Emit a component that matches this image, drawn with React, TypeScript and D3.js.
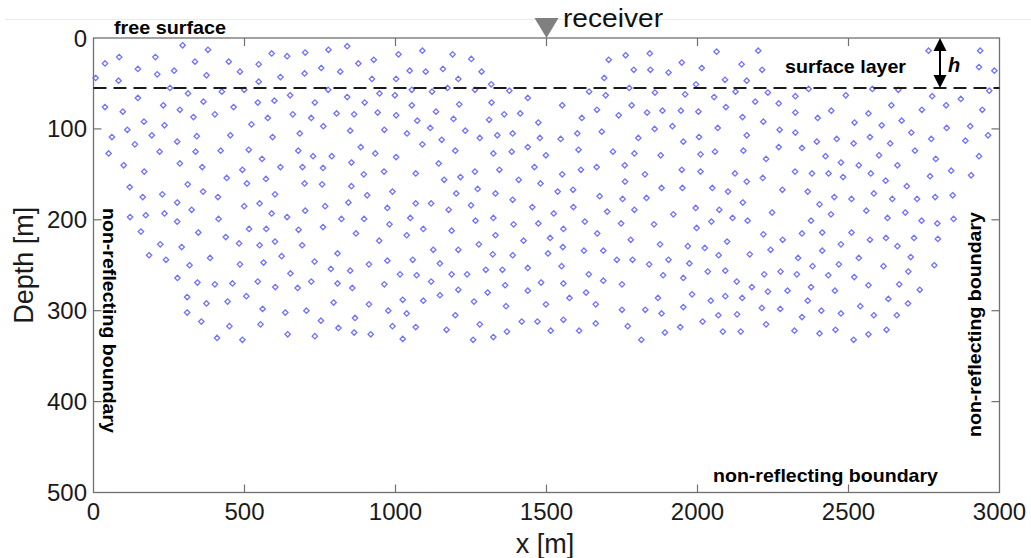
import React from 'react';
import * as d3 from 'd3';

const WIDTH = 1031;
const HEIGHT = 558;

const xTicks = [0, 500, 1000, 1500, 2000, 2500, 3000];
const depthTicks = [0, 100, 200, 300, 400, 500];
const surfaceLayerDepth = 55;
const receiverX = 1500;

// Scatterer positions [x (m), depth (m)], grouped by model zone
const nodesShallowWest: [number, number][] = [
  [295, 8], [379, 13], [7, 44], [38, 28], [85, 21], [83, 47], [147, 34], [205, 21], [211, 40], [267, 36], [336, 26], [374, 41], [448, 26], [485, 37], [547, 29], [547, 48], [590, 17], [619, 43], [641, 20], [699, 39], [701, 16], [754, 33], [778, 13], [817, 37],
  [253, 55], [313, 61], [425, 59], [499, 57], [777, 57], [147, 66], [38, 76], [97, 81], [231, 74], [286, 79], [331, 87], [364, 70], [402, 84], [464, 76], [544, 71], [577, 88], [599, 69], [651, 63], [660, 84], [721, 88], [733, 71], [805, 83],
  [167, 92], [112, 101], [61, 109], [193, 107], [235, 96], [277, 114], [342, 108], [453, 107], [523, 95], [593, 109], [683, 105], [761, 97],
  [137, 117], [50, 127], [219, 125], [338, 125], [421, 124], [514, 123], [558, 133], [678, 124], [727, 130], [789, 130],
  [100, 140], [168, 147], [286, 138], [360, 142], [493, 145], [571, 155], [619, 142], [692, 142], [760, 143],
  [120, 164], [312, 161], [441, 154], [508, 160], [699, 160], [757, 161],
];

const nodesShallowCentral: [number, number][] = [
  [840, 9], [1010, 18], [1089, 14], [1189, 18], [1251, 23], [1706, 24], [1762, 19], [1842, 17], [1948, 27],
  [877, 28], [928, 24], [922, 45], [1002, 45], [1047, 36], [1100, 37], [1157, 34], [1208, 45], [1285, 37], [1317, 51], [1691, 44], [1789, 35], [1844, 35], [1904, 38],
  [947, 61], [998, 63], [1054, 57], [1121, 59], [1172, 55], [1263, 57], [1377, 58], [1641, 59], [1696, 63], [1774, 55], [1859, 60],
  [840, 65], [898, 71], [1438, 66], [1318, 71], [1054, 74], [1211, 73], [1552, 74], [1782, 74], [941, 82], [1134, 81], [863, 84], [1002, 85], [1192, 89], [1072, 91], [1310, 90], [1360, 84], [1413, 83], [1473, 93], [1617, 88], [1667, 79], [1739, 85], [1833, 82], [1884, 80], [1945, 80],
  [850, 102], [963, 101], [1038, 105], [1115, 99], [1153, 112], [1231, 102], [1279, 110], [1337, 107], [1388, 105], [1478, 110], [1547, 111], [1602, 105], [1683, 103], [1804, 110], [1858, 100], [1917, 97], [1953, 114],
  [885, 120], [933, 127], [1002, 131], [1089, 117], [1198, 124], [1324, 127], [1385, 125], [1438, 120], [1498, 129], [1606, 123], [1720, 125], [1791, 127], [1878, 129],
  [854, 137], [895, 150], [962, 147], [1067, 149], [1143, 138], [1161, 156], [1215, 153], [1263, 147], [1344, 145], [1408, 156], [1460, 142], [1480, 160], [1552, 150], [1614, 145], [1666, 142], [1759, 140], [1826, 150], [1948, 145],
  [854, 163], [1760, 158], [1881, 165], [1950, 165], [1272, 166], [1588, 167],
];

const nodesShallowEast: [number, number][] = [
  [2063, 15], [2201, 14], [2014, 33], [2146, 29], [2214, 35], [2091, 46], [2163, 47], [1995, 51], [2765, 14], [2936, 14], [2932, 32], [2983, 36],
  [1959, 62], [2055, 65], [2126, 59], [2233, 60], [2324, 64], [2368, 56], [2491, 63], [2579, 56], [2665, 57], [2777, 64], [2823, 74], [2872, 67], [2966, 58],
  [2003, 81], [2094, 76], [2191, 70], [2269, 72], [2324, 82], [2149, 87], [2218, 92], [2398, 88], [2443, 80], [2520, 93], [2566, 83], [2642, 74], [2610, 96], [2676, 91], [2743, 79], [2943, 79],
  [2067, 99], [2163, 107], [2272, 101], [2324, 104], [2005, 109], [2058, 125], [2152, 124], [2269, 120], [2346, 121], [2395, 114], [2461, 111], [2517, 116], [2571, 109], [2638, 116], [2708, 104], [2774, 111], [2825, 99], [2903, 97], [2962, 107], [2887, 113],
  [2010, 128], [2227, 133], [2424, 130], [2475, 137], [2534, 140], [2601, 129], [2662, 140], [2720, 124], [2789, 133], [2932, 130],
  [2010, 147], [2124, 149], [2216, 154], [2163, 158], [2323, 147], [2379, 149], [2434, 149], [2482, 153], [2574, 149], [2623, 157], [2693, 163], [2770, 152], [2840, 146], [2906, 151],
  [2049, 165], [2281, 167],
];

const nodesDeepWest: [number, number][] = [
  [163, 175], [228, 172], [277, 181], [363, 169], [412, 175], [601, 172], [550, 182], [499, 185], [767, 185],
  [121, 197], [173, 195], [235, 193], [277, 202], [325, 189], [414, 199], [515, 210], [572, 210], [590, 193], [641, 197], [679, 211], [701, 190], [760, 208], [821, 199],
  [157, 213], [221, 227], [292, 230], [347, 214], [438, 219], [482, 226], [550, 228], [601, 224], [623, 240], [691, 228], [808, 237],
  [184, 239], [240, 244], [318, 250], [386, 242], [485, 249], [563, 247], [732, 246], [786, 254],
  [278, 264], [344, 269], [402, 271], [460, 270], [544, 268], [602, 274], [652, 259], [676, 275], [721, 268], [808, 270],
  [310, 285], [374, 292], [444, 290], [506, 284], [560, 298], [635, 302], [705, 300], [795, 291],
  [310, 302], [357, 312], [450, 317], [553, 315], [753, 311], [811, 319],
  [409, 330], [493, 332], [643, 326], [733, 328],
];

const nodesDeepCentral: [number, number][] = [
  [906, 173], [990, 169], [1201, 171], [1331, 171], [1388, 178], [1537, 169], [1676, 174], [1752, 177], [1831, 176],
  [844, 181], [973, 187], [1067, 182], [1118, 182], [1176, 189], [1250, 184], [1453, 186], [1524, 193], [1589, 186], [1701, 191], [1791, 189], [1920, 194],
  [896, 199], [980, 205], [1049, 198], [1092, 210], [1186, 212], [1265, 201], [1324, 198], [1391, 205], [1473, 204], [1556, 210], [1627, 202], [1747, 204], [1856, 205],
  [869, 215], [946, 223], [1037, 217], [1125, 233], [1208, 233], [1276, 227], [1331, 217], [1424, 223], [1512, 220], [1554, 230], [1624, 234], [1668, 215], [1688, 234], [1779, 222], [1876, 227],
  [850, 256], [912, 249], [973, 245], [1057, 244], [1147, 248], [1322, 238], [1388, 239], [1505, 237], [1550, 251], [1733, 244], [1785, 244], [1840, 249], [1904, 244],
  [1015, 260], [1070, 261], [1186, 260], [1237, 260], [1299, 255], [1354, 255], [1438, 253], [1640, 260], [1886, 261], [1953, 264],
  [857, 275], [963, 271], [1118, 268], [1208, 277], [1305, 280], [1363, 272], [1438, 278], [1482, 269], [1556, 270], [1631, 280], [1688, 267], [1750, 271],
  [912, 293], [1024, 288], [1092, 289], [1147, 283], [1260, 290], [1366, 295], [1498, 293], [1576, 286], [1663, 293], [1869, 286], [1953, 296],
  [866, 308], [976, 300], [1037, 303], [1198, 305], [1418, 312], [1470, 312], [1556, 310], [1663, 314], [1750, 299], [1827, 299], [1881, 303],
  [863, 324], [918, 326], [990, 317], [1067, 318], [1024, 331], [1169, 321], [1279, 315], [1257, 332], [1324, 329], [1369, 323], [1514, 322], [1608, 322], [1769, 317], [1814, 332], [1892, 324], [1943, 318],
];

const nodesDeepEast: [number, number][] = [
  [2101, 169], [2365, 169], [2453, 175], [2510, 177], [2584, 171], [2645, 177], [2727, 177], [2787, 175], [2845, 173],
  [1994, 187], [2072, 189], [2150, 181], [2046, 202], [2116, 198], [2166, 201], [2247, 192], [2376, 201], [2404, 183], [2442, 194], [2559, 190], [2629, 198], [2688, 192], [2742, 201], [2794, 204], [2848, 199],
  [1997, 209], [2098, 224], [2218, 216], [2282, 222], [2346, 215], [2413, 214], [2475, 227], [2510, 214], [2571, 222], [2624, 220], [2662, 229], [2717, 220], [2796, 221],
  [1968, 229], [2024, 231], [2070, 239], [2173, 238], [2242, 233], [2333, 242], [2413, 234], [2381, 251], [2468, 249], [2534, 242], [2616, 251], [2706, 241], [2784, 250],
  [1973, 248], [2034, 257], [2092, 256], [2130, 268], [2180, 274], [2221, 260], [2275, 257], [2329, 260], [2233, 279], [2298, 278], [2376, 274], [2433, 261], [2455, 278], [2519, 263], [2566, 272], [2698, 257], [2668, 271], [2736, 277],
  [1982, 282], [2044, 289], [2092, 284], [2148, 286], [2213, 297], [2274, 298], [2365, 289], [2346, 307], [2410, 300], [2475, 303], [2539, 295], [2584, 305], [2632, 287], [2697, 292], [2660, 305],
  [2017, 312], [2069, 305], [2131, 304], [2227, 315], [2084, 323], [2143, 323], [2321, 322], [2404, 325], [2457, 321], [2517, 332], [2566, 326], [2626, 321],
];

const allNodes = [
  ...nodesShallowWest, ...nodesShallowCentral, ...nodesShallowEast,
  ...nodesDeepWest, ...nodesDeepCentral, ...nodesDeepEast,
];

const FONT = "'Liberation Sans', Arial, Helvetica, sans-serif";

export default function App() {
  const left = 93.5, right = 999.5, top = 38, bottom = 492.5;
  const x = d3.scaleLinear().domain([0, 3000]).range([left, right]);
  const y = d3.scaleLinear().domain([0, 500]).range([top, bottom]);
  const r = 2.7;
  const diamond = `M0,${-r}L${r},0L0,${r}L${-r},0Z`;
  const tickLen = 8;
  const axisColor = '#707070';
  const rx = x(receiverX);
  const yLayer = y(surfaceLayerDepth);
  const arrowX = 940;

  return (
    <svg width={WIDTH} height={HEIGHT} style={{ position: 'absolute', left: 0, top: 0, background: '#fff' }}>
      <line x1={5} x2={WIDTH} y1={19.5} y2={19.5} stroke="#ebebeb" strokeWidth={1} />

      {/* scatterers */}
      <g fill="none" stroke="#7272ff" strokeWidth={1.3}>
        {allNodes.map(([xv, dv], i) => (
          <path key={i} d={diamond} transform={`translate(${x(xv)},${y(dv)})`} />
        ))}
      </g>

      {/* frame */}
      <rect x={left} y={top} width={right - left} height={bottom - top} fill="none" stroke={axisColor} strokeWidth={1.3} />

      {/* ticks on all four sides, pointing inward */}
      <g stroke={axisColor} strokeWidth={1.2}>
        {xTicks.slice(1, -1).map((t) => (
          <g key={t}>
            <line x1={x(t)} x2={x(t)} y1={bottom} y2={bottom - tickLen} />
            <line x1={x(t)} x2={x(t)} y1={top} y2={top + tickLen} />
          </g>
        ))}
        {depthTicks.slice(1, -1).map((t) => (
          <g key={t}>
            <line x1={left} x2={left + tickLen} y1={y(t)} y2={y(t)} />
            <line x1={right} x2={right - tickLen} y1={y(t)} y2={y(t)} />
          </g>
        ))}
      </g>

      {/* tick labels */}
      <g fontFamily={FONT} fontSize={24} fill="#1a1a1a">
        {xTicks.map((t) => (
          <text key={t} x={x(t)} y={520} textAnchor="middle">{t}</text>
        ))}
        {depthTicks.map((t) => (
          <text key={t} x={87} y={y(t) + 8.5} textAnchor="end">{t}</text>
        ))}
      </g>

      {/* axis titles */}
      <text x={545} y={553} textAnchor="middle" fontFamily={FONT} fontSize={27} fill="#1a1a1a">x [m]</text>
      <text transform={`translate(33,${(top + bottom) / 2}) rotate(-90)`} textAnchor="middle" fontFamily={FONT} fontSize={27} fill="#1a1a1a">Depth [m]</text>

      {/* surface layer boundary */}
      <line x1={left} x2={right} y1={yLayer} y2={yLayer} stroke="#1a1a1a" strokeWidth={2} strokeDasharray="13,7" />

      {/* receiver */}
      <path d={`M${rx - 12},18L${rx + 12},18L${rx},38Z`} fill="#808080" />
      <text x={563} y={27} fontFamily={FONT} fontSize={26} fill="#111" textLength={100} lengthAdjust="spacingAndGlyphs">receiver</text>

      {/* layer thickness arrow */}
      <line x1={arrowX} x2={arrowX} y1={48} y2={78} stroke="#000" strokeWidth={2} />
      <path d={`M${arrowX},${top}L${arrowX - 6.5},${top + 13}L${arrowX + 6.5},${top + 13}Z`} fill="#000" />
      <path d={`M${arrowX},${yLayer}L${arrowX - 6.5},${yLayer - 13}L${arrowX + 6.5},${yLayer - 13}Z`} fill="#000" />
      <text x={948} y={72} fontFamily={FONT} fontSize={20} fontWeight="bold" fontStyle="italic" fill="#000">h</text>

      {/* boundary annotations */}
      <g fontFamily={FONT} fontSize={19} fontWeight="bold" fill="#000">
        <text x={114} y={34} textLength={112} lengthAdjust="spacingAndGlyphs">free surface</text>
        <text x={785} y={73} textLength={121} lengthAdjust="spacingAndGlyphs">surface layer</text>
        <text x={713} y={482} textLength={225} lengthAdjust="spacingAndGlyphs">non-reflecting boundary</text>
        <text transform="translate(103,208) rotate(90)" textLength={225} lengthAdjust="spacingAndGlyphs">non-reflecting boundary</text>
        <text transform="translate(981,437) rotate(-90)" textLength={225} lengthAdjust="spacingAndGlyphs">non-reflecting boundary</text>
      </g>
    </svg>
  );
}
